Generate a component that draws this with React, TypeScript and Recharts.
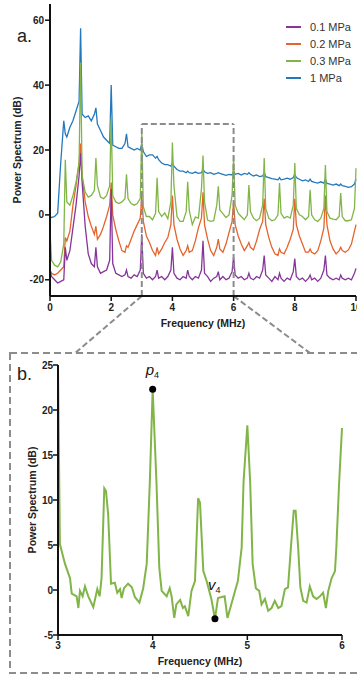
import {
  LineChart, Line, XAxis, YAxis, Legend, ReferenceLine, ReferenceDot,
} from 'recharts';

const FONT = '"Liberation Sans", Arial, Helvetica, sans-serif';
const DASH = '#8c8c8c';

// panel a: shared frequency grid (MHz)
const freqA = [
  0, 0.05, 0.15, 0.25, 0.35, 0.45,
  0.5, 0.55, 0.65, 0.75, 0.85, 0.95,
  1, 1.05, 1.15, 1.25, 1.35, 1.45,
  1.5, 1.55, 1.65, 1.75, 1.85, 1.95,
  2, 2.05, 2.15, 2.25, 2.35, 2.45,
  2.5, 2.55, 2.65, 2.75, 2.85, 2.95,
  3, 3.05, 3.15, 3.25, 3.35, 3.45,
  3.5, 3.55, 3.65, 3.75, 3.85, 3.95,
  4, 4.05, 4.15, 4.25, 4.35, 4.45,
  4.5, 4.55, 4.65, 4.75, 4.85, 4.95,
  5, 5.05, 5.15, 5.25, 5.35, 5.45,
  5.5, 5.55, 5.65, 5.75, 5.85, 5.95,
  6, 6.05, 6.15, 6.25, 6.35, 6.45,
  6.5, 6.55, 6.65, 6.75, 6.85, 6.95,
  7, 7.05, 7.15, 7.25, 7.35, 7.45,
  7.5, 7.55, 7.65, 7.75, 7.85, 7.95,
  8, 8.05, 8.15, 8.25, 8.35, 8.45,
  8.5, 8.55, 8.65, 8.75, 8.85, 8.95,
  9, 9.05, 9.15, 9.25, 9.35, 9.45,
  9.5, 9.55, 9.65, 9.75, 9.85, 9.95,
  10,
];

const mpa01 = [
  -17, -19, -20, -21, -20.5, -20,
  -10, -14, -11, -4, 3, 12,
  19, 10, -3.5, -12, -15, -16,
  -10, -16, -18, -17.5, -17, -14,
  8, -15, -18, -18.5, -19, -18.5,
  -17, -19, -19.5, -18.5, -19, -17,
  -6, -18, -19.5, -19, -20, -19,
  -17, -19.5, -19, -20, -19, -17,
  -10, -18, -19.5, -20, -19, -19.5,
  -17, -19, -20, -19, -19.5, -17,
  -8, -18, -19, -20.5, -19.5, -19,
  -17.5, -20, -19, -20, -19.5, -17.5,
  -13, -18.5, -19.5, -19, -20, -19.5,
  -18, -19.5, -20, -19, -19.5, -17,
  -12.5, -18.5, -19.5, -20.5, -19, -20,
  -18, -19.5, -20.5, -19.5, -20, -17.5,
  -13.5, -19, -20, -19.5, -20.5, -19.5,
  -18.5, -20, -19.5, -20.5, -19.5, -17,
  -12.5, -18.5, -19.5, -20, -19.5, -20,
  -18.5, -19.5, -20, -19.5, -20, -18,
  -16.5,
];

const mpa02 = [
  -17, -18, -18.5, -18, -17, -16,
  -7, -8, -5, 3, 9, 16,
  22, 12, 4, -0.5, -3.5, -6,
  -3.5, -7.5, -6, -3.5, -0.5, 3,
  10, 0, -4.5, -8, -11, -11.5,
  -9.5, -10, -7.5, -5, -3, -1,
  6, -2, -6.5, -8.5, -11, -12.5,
  -10, -12, -10.5, -8.5, -7, -3,
  6, -3, -7.5, -10.5, -12.5, -11,
  -9.5, -11.5, -11, -8, -4, -1,
  7, -3, -7.5, -11, -12.5, -10,
  -7.5, -10.5, -11.5, -9, -5.5, -2,
  4, -3, -6.5, -9, -11, -9.5,
  -8.5, -10, -10.8, -8, -4.5, -2,
  5, -3, -7, -10, -12, -12.5,
  -10.5, -11.5, -12, -10, -7.5, -4.5,
  5, -3, -6.5, -9, -11.5, -11.5,
  -10.5, -11.5, -12, -11, -8, -4,
  6, -3, -8, -10.5, -12, -11,
  -10, -11, -11.5, -10.8, -9, -5,
  -3,
];

const mpa03 = [
  -5, -14, -15.5, -16, -14.5, -9,
  17, 4, 3, 6, 10, 16,
  47, 12, 7, 5.5, 6, 7.5,
  17.5, 9, 5.5, 5, 6, 9,
  30, 6, 4, 3.5, 4, 5,
  12.5, 5, 3.5, 3, 3.5, 5,
  25, 2.5, -0.5, -0.5, -1.5, 0.5,
  11.4, 1, -0.5, 0.6, -1.2, 4,
  22.3, 9, -0.5, -2, -2, 1,
  10.2, 1.5, -3, -0.7, -1, 8,
  18.3, 4, -1.6, -2, -1.8, 3,
  8.8, 1.5, 0.4, -0.8, 0, 6,
  18, 3, 0.5, -0.5, -1.5, 0,
  9.2, 1, -1, -1.8, -1, 3,
  17.5, 2, -1, -1.8, -1.5, 0,
  9.8, 0.5, -1, -0.5, -1, 3,
  16, 2, 0, -0.5, -1.5, -0.5,
  7.7, 0, -1.5, -2, -1, 2,
  15.4, 1, -1, -1.3, -1.5, -0.5,
  6.7, -0.5, -1.8, -1.8, -1.5, 2,
  14.4,
];

const mpa1 = [
  -0.5, -0.8, -0.5, 0.5, 16, 29,
  25, 24, 27, 29, 32, 35,
  57.5, 31, 30, 30.5, 29, 31,
  33, 28, 26, 24, 23, 22,
  40, 21.5, 21, 20.5, 20.5, 22,
  25, 21, 20.5, 20, 20.5, 20,
  22, 19.5, 18, 18.5, 18.5, 17.5,
  18, 17, 16, 15.5, 15.5, 15,
  16, 15, 14, 13.5, 13.5, 13,
  13.5, 13, 12.8, 13.2, 12.8, 13,
  14, 13.3, 12.8, 13, 12.5, 12.8,
  13, 12.8, 12.5, 12.2, 12.5, 12.3,
  13.5, 12.5, 12.8, 12.3, 12.8, 12.5,
  13, 12.5, 12, 12.3, 11.8, 12,
  13, 11.8, 11.5, 11.2, 11, 10.8,
  11.5, 10.8, 11, 11.3, 11, 11.5,
  12.5, 11.5, 11, 10.5, 10.8, 10.3,
  11, 10.3, 10, 9.8, 10.2, 9.8,
  11, 9.7, 9.5, 9.2, 9.5, 9,
  9.5, 9, 8.8, 8.5, 8.7, 9.5,
  11,
];

// panel b: 0.3 MPa, 3-6 MHz zoom
const freqB = [
  3, 3.02, 3.074, 3.127, 3.145, 3.197, 3.215, 3.232, 3.26, 3.285, 3.32, 3.373,
  3.415, 3.44, 3.46, 3.489, 3.507, 3.53, 3.56, 3.6, 3.626, 3.655, 3.672, 3.697,
  3.74, 3.78, 3.813, 3.86, 3.9, 3.937, 3.97, 4, 4.04, 4.07, 4.095, 4.148,
  4.18, 4.2, 4.228, 4.25, 4.29, 4.32, 4.34, 4.376, 4.41, 4.447, 4.48, 4.5,
  4.535, 4.57, 4.62, 4.658, 4.69, 4.76, 4.79, 4.82, 4.87, 4.9, 4.94, 4.96,
  5, 5.03, 5.056, 5.09, 5.125, 5.15, 5.186, 5.22, 5.256, 5.29, 5.327, 5.36,
  5.397, 5.43, 5.46, 5.49, 5.51, 5.537, 5.56, 5.59, 5.626, 5.66, 5.695, 5.73,
  5.767, 5.8, 5.83, 5.855, 5.89, 5.926, 5.94, 5.97, 6,
];
const powerB = [
  25, 5.1, 2.9, 1.3, -0.4, -0.7, -2, -0.1, -0.7, 0.4, -0.7, -1.9,
  0.1, -0.7, 1.3, 11.3, 11, 8.4, 0.7, 0.8, -0.3, 0.1, -0.9, 0.2,
  0.7, 0.3, -0.8, -1.4, 0.2, 2.9, 12, 22.3, 12, 2.5, -0.1, -0.7,
  0.2, -0.7, -3.1, -1.6, -1.1, -2, -1.8, -2.9, -0.1, 1, 10.2, 9.7,
  2.1, 1, -1, -3.2, -0.9, -0.7, -3.1, -2, -0.1, 1, 4.7, 12,
  18.3, 12, 2.9, 0.2, -0.1, -1.6, -1, -2.3, -2, -1.2, -2, -1.8,
  0.1, 0.3, 4.7, 8.8, 8.8, 4.7, 0.3, -1.2, -1.4, 0.4, -0.7, -1,
  -0.7, -0.3, -2, -0.1, 1.3, 2.1, 4.7, 12, 18,
];

const legendNames = ['0.1 MPa', '0.2 MPa', '0.3 MPa', '1 MPa'];
const legendColors = ['#86369a', '#e4642c', '#82b548', '#2479bd'];

const ticksAX = [0, 2, 4, 6, 8, 10];
const ticksAY = [-20, 0, 20, 40, 60];
const ticksBX = [3, 4, 5, 6];
const ticksBY = [-5, 0, 5, 10, 15, 20, 25];

const zoomBox = { x1: 3, x2: 6, y0: -25, top: 28 };
const zoomLink = { y: -42.6, left: 0.82, right: 8.5 };
const peak = { f: 4, v: 22.3 };
const valley = { f: 4.658, v: -3.2 };

const tableA = freqA.map((f, i) => ({
  f, p01: mpa01[i], p02: mpa02[i], p03: mpa03[i], p1: mpa1[i],
}));
const tableB = freqB.map((f, i) => ({ f, v: powerB[i] }));

const tickStyle = { fontSize: 10, fontWeight: 700, fill: '#222', fontFamily: FONT };
const titleStyle = { fontSize: 10.5, fontWeight: 700, fill: '#222', fontFamily: FONT, textAnchor: 'middle' as const };

function LegendBox() {
  return (
    <div style={{ fontFamily: FONT, fontSize: 11, color: '#333' }}>
      {legendNames.map((name, i) => (
        <div key={name} style={{ display: 'flex', alignItems: 'center', height: 17 }}>
          <span style={{ display: 'inline-block', width: 15, height: 2, background: legendColors[i], marginRight: 9 }} />
          <span>{name}</span>
        </div>
      ))}
    </div>
  );
}

function markLabel(sym: string, rise: number) {
  return (props: any) => {
    const vb = props.viewBox;
    const cx = vb.x + vb.width / 2;
    const cy = vb.y + vb.height / 2;
    return (
      <text x={cx - 7} y={cy - rise} fill="#111" fontFamily={FONT}>
        <tspan fontStyle="italic" fontSize={15}>{sym}</tspan>
        <tspan fontSize={9} dy={3}>4</tspan>
      </text>
    );
  };
}

export default function App() {
  return (
    <div style={{ position: 'absolute', left: 0, top: 0, width: 357, height: 674, overflow: 'hidden', background: '#fff', fontFamily: FONT }}>
      <svg width={357} height={674} style={{ position: 'absolute', left: 0, top: 0 }}>
        <rect x={10} y={353} width={360} height={320} fill="none" stroke={DASH} strokeWidth={2} strokeDasharray="7 4" />
      </svg>

      <div style={{ position: 'absolute', left: 0, top: 0 }}>
        <LineChart width={380} height={362} data={tableA} margin={{ top: 4, right: 24, bottom: 30, left: 0 }}>
          <XAxis
            dataKey="f" type="number" domain={[0, 10]} ticks={ticksAX}
            axisLine={{ stroke: '#111', strokeWidth: 2 }} tickLine={{ stroke: '#111', strokeWidth: 1.5 }}
            tickSize={5} tickMargin={3} height={36} tick={tickStyle}
            label={{ value: 'Frequency (MHz)', position: 'insideBottom', offset: 5, style: titleStyle }}
          />
          <YAxis
            type="number" domain={[-25, 65]} ticks={ticksAY} width={50}
            axisLine={{ stroke: '#111', strokeWidth: 2 }} tickLine={{ stroke: '#111', strokeWidth: 1.5 }}
            tickSize={5} tickMargin={1} tick={tickStyle}
            label={{ value: 'Power Spectrum (dB)', angle: -90, position: 'insideLeft', offset: 17, style: titleStyle }}
          />
          <Legend
            layout="vertical" align="center" verticalAlign="middle"
            wrapperStyle={{ top: 18.5, left: 286, width: 80 }}
            content={() => <LegendBox />}
          />
          <Line dataKey="p1" stroke={legendColors[3]} strokeWidth={1.3} dot={false} isAnimationActive={false} />
          <Line dataKey="p02" stroke={legendColors[1]} strokeWidth={1.3} dot={false} isAnimationActive={false} />
          <Line dataKey="p01" stroke={legendColors[0]} strokeWidth={1.3} dot={false} isAnimationActive={false} />
          <Line dataKey="p03" stroke={legendColors[2]} strokeWidth={1.3} dot={false} isAnimationActive={false} />
          <ReferenceLine segment={[{ x: zoomBox.x1, y: zoomBox.y0 }, { x: zoomBox.x1, y: zoomBox.top }]} stroke={DASH} strokeWidth={2} strokeDasharray="6 3" ifOverflow="visible" />
          <ReferenceLine segment={[{ x: zoomBox.x1, y: zoomBox.top }, { x: zoomBox.x2, y: zoomBox.top }]} stroke={DASH} strokeWidth={2} strokeDasharray="6 3" ifOverflow="visible" />
          <ReferenceLine segment={[{ x: zoomBox.x2, y: zoomBox.y0 }, { x: zoomBox.x2, y: zoomBox.top }]} stroke={DASH} strokeWidth={2} strokeDasharray="6 3" ifOverflow="visible" />
          <ReferenceLine segment={[{ x: zoomBox.x1, y: zoomBox.y0 }, { x: zoomLink.left, y: zoomLink.y }]} stroke={DASH} strokeWidth={2} strokeDasharray="6 3" ifOverflow="visible" />
          <ReferenceLine segment={[{ x: zoomBox.x2, y: zoomBox.y0 }, { x: zoomLink.right, y: zoomLink.y }]} stroke={DASH} strokeWidth={2} strokeDasharray="6 3" ifOverflow="visible" />
        </LineChart>
      </div>

      <div style={{ position: 'absolute', left: 0, top: 353 }}>
        <LineChart width={357} height={320} data={tableB} margin={{ top: 12, right: 15, bottom: 2, left: 0 }}>
          <XAxis
            dataKey="f" type="number" domain={[3, 6]} ticks={ticksBX}
            axisLine={{ stroke: '#111', strokeWidth: 2 }} tickLine={{ stroke: '#111', strokeWidth: 1.5 }}
            tickSize={5} tickMargin={2} height={36} tick={tickStyle}
            label={{ value: 'Frequency (MHz)', position: 'insideBottom', offset: 6, style: titleStyle }}
          />
          <YAxis
            type="number" domain={[-5, 25]} ticks={ticksBY} width={58}
            axisLine={{ stroke: '#111', strokeWidth: 2 }} tickLine={{ stroke: '#111', strokeWidth: 1.5 }}
            tickSize={5} tickMargin={0} tick={tickStyle}
            label={{ value: 'Power Spectrum (dB)', angle: -90, position: 'insideLeft', offset: 32, style: titleStyle }}
          />
          <Line dataKey="v" stroke={legendColors[2]} strokeWidth={2} dot={false} isAnimationActive={false} />
          <ReferenceDot x={peak.f} y={peak.v} r={3.5} fill="#000" stroke="none" label={markLabel('p', 14)} />
          <ReferenceDot x={valley.f} y={valley.v} r={3.5} fill="#000" stroke="none" label={markLabel('v', 29)} />
        </LineChart>
      </div>

      <div style={{ position: 'absolute', left: 17, top: 27, fontSize: 18, lineHeight: '18px', color: '#222' }}>a.</div>
      <div style={{ position: 'absolute', left: 17, top: 365, fontSize: 18, lineHeight: '18px', color: '#222' }}>b.</div>
    </div>
  );
}
